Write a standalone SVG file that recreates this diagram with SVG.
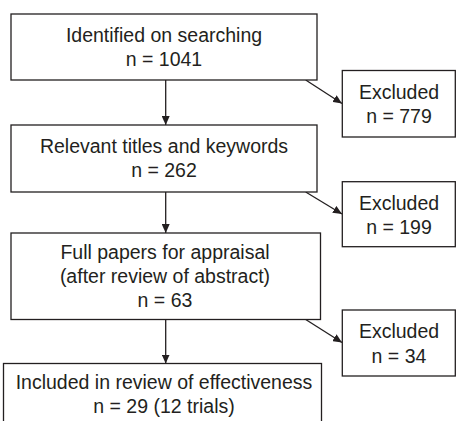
<svg xmlns="http://www.w3.org/2000/svg" width="456" height="421" viewBox="0 0 456 421">
<defs>
<marker id="ah" markerUnits="userSpaceOnUse" markerWidth="10" markerHeight="8" refX="9" refY="4" orient="auto">
<path d="M0,0 L9,4 L0,8 Z" fill="#231f20"/>
</marker>
<style>
.box{fill:#fff;stroke:#231f20;stroke-width:1.3}
.t{font-family:"Liberation Sans",Arial,sans-serif;font-size:19.5px;fill:#231f20;text-anchor:middle}
.c{stroke:#231f20;stroke-width:1.3;fill:none;marker-end:url(#ah)}
</style>
</defs>
<rect width="456" height="421" fill="#fff"/>
<g id="connectors">
<line class="c" x1="165.7" y1="80" x2="165.7" y2="125"/>
<line class="c" x1="305.7" y1="80" x2="342" y2="103.5"/>
<line class="c" x1="165.7" y1="192" x2="165.7" y2="233"/>
<line class="c" x1="305.7" y1="192" x2="342" y2="214"/>
<line class="c" x1="165.7" y1="319.5" x2="165.7" y2="363.5"/>
<line class="c" x1="305.7" y1="319.5" x2="342" y2="342.5"/>
</g>
<g id="n1">
<rect class="box" x="11" y="14" width="306" height="66"/>
<text class="t" x="164" y="41.5">Identified on searching</text>
<text class="t" x="164" y="66">n = 1041</text>
</g>
<g id="x1">
<rect class="box" x="342.3" y="70.5" width="113" height="66.5"/>
<text class="t" x="399" y="98.5">Excluded</text>
<text class="t" x="399" y="123">n = 779</text>
</g>
<g id="n2">
<rect class="box" x="11" y="125" width="306" height="67"/>
<text class="t" x="164" y="153">Relevant titles and keywords</text>
<text class="t" x="164" y="177">n = 262</text>
</g>
<g id="x2">
<rect class="box" x="342.3" y="181.7" width="113" height="65"/>
<text class="t" x="399" y="209.5">Excluded</text>
<text class="t" x="399" y="234">n = 199</text>
</g>
<g id="n3">
<rect class="box" x="11" y="233" width="309.5" height="86.5"/>
<text class="t" x="165" y="259">Full papers for appraisal</text>
<text class="t" x="165" y="283">(after review of abstract)</text>
<text class="t" x="165" y="307">n = 63</text>
</g>
<g id="x3">
<rect class="box" x="342.3" y="310" width="113" height="66"/>
<text class="t" x="399" y="338">Excluded</text>
<text class="t" x="399" y="362.5">n = 34</text>
</g>
<g id="n4">
<rect class="box" x="3.5" y="363.5" width="318" height="70"/>
<text class="t" x="164" y="388.5">Included in review of effectiveness</text>
<text class="t" x="164" y="413">n = 29 (12 trials)</text>
</g>
</svg>
